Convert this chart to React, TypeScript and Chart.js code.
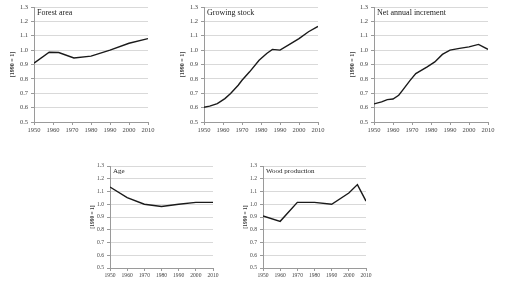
import React, { useEffect, useRef } from "react";
import { Chart, registerables } from "chart.js";

Chart.register(...registerables);

// Index values relative to 1990 (= 1)
const forestYears = [1950, 1958, 1963, 1971, 1980, 1990, 2000, 2010];
const forestValues = [0.91, 0.985, 0.983, 0.945, 0.958, 1.0, 1.048, 1.08];

const stockYears = [1950, 1953, 1957, 1961, 1964, 1968, 1970, 1974, 1979, 1983, 1986, 1990, 1995, 2000, 2005, 2010];
const stockValues = [0.602, 0.61, 0.628, 0.663, 0.698, 0.756, 0.79, 0.849, 0.93, 0.977, 1.005, 1.0, 1.04, 1.08, 1.128, 1.165];

const incrementYears = [1950, 1954, 1957, 1960, 1963, 1965, 1969, 1972, 1978, 1982, 1986, 1990, 1995, 2000, 2005, 2010];
const incrementValues = [0.626, 0.64, 0.656, 0.66, 0.686, 0.72, 0.79, 0.837, 0.884, 0.918, 0.97, 1.0, 1.012, 1.023, 1.04, 1.005];

const ageYears = [1950, 1960, 1970, 1980, 1990, 2000, 2010];
const ageValues = [1.135, 1.052, 1.0, 0.982, 1.0, 1.015, 1.015];

const woodYears = [1950, 1960, 1970, 1980, 1990, 2000, 2005, 2010];
const woodValues = [0.908, 0.866, 1.015, 1.015, 1.0, 1.088, 1.154, 1.025];

const yMin = 0.5;
const yMax = 1.3;
const yStep = 0.1;
const xMin = 1950;
const xMax = 2010;
const xStep = 10;
const yAxisTitle = "[1990 = 1]";

const FONT = "'Liberation Serif', 'Times New Roman', serif";

type Panel = {
  title: string;
  years: number[];
  values: number[];
  left: number;
  top: number;
  plotW: number;
  plotH: number;
  yAxisW: number;
  xAxisH: number;
  padTop: number;
  padRight: number;
  tickSize: number;
  titleSize: number;
  axisTitleSize: number;
  axisTitlePad: number;
};

const big = { plotW: 114, plotH: 115, yAxisW: 34, xAxisH: 16, padTop: 7, padRight: 12, tickSize: 6.5, titleSize: 8, axisTitleSize: 6, axisTitlePad: 9 };
const small = { plotW: 103, plotH: 102, yAxisW: 30, xAxisH: 14, padTop: 8, padRight: 12, tickSize: 5.6, titleSize: 7, axisTitleSize: 5.5, axisTitlePad: 9 };

const panels: Panel[] = [
  { title: "Forest area", years: forestYears, values: forestValues, left: 0, top: 0, ...big },
  { title: "Growing stock", years: stockYears, values: stockValues, left: 170, top: 0, ...big },
  { title: "Net annual increment", years: incrementYears, values: incrementValues, left: 340, top: 0, ...big },
  { title: "Age", years: ageYears, values: ageValues, left: 80, top: 158, ...small },
  { title: "Wood production", years: woodYears, values: woodValues, left: 233, top: 158, ...small },
];

function LinePanel({ p }: { p: Panel }) {
  const ref = useRef<HTMLCanvasElement | null>(null);
  const width = p.yAxisW + p.plotW + p.padRight;
  const height = p.padTop + p.plotH + p.xAxisH;

  useEffect(() => {
    if (!ref.current) return;
    const panelTitle = {
      id: "panelTitle",
      afterDraw(chart: Chart) {
        const { ctx, chartArea } = chart;
        ctx.save();
        ctx.font = `${p.titleSize}px ${FONT}`;
        ctx.fillStyle = "#222";
        ctx.textBaseline = "middle";
        ctx.textAlign = "left";
        ctx.fillText(p.title, chartArea.left + 3, chartArea.top + p.titleSize * 0.8);
        ctx.restore();
      },
    };
    const chart = new Chart(ref.current, {
      type: "line",
      data: {
        datasets: [
          {
            data: p.years.map((x, i) => ({ x, y: p.values[i] })),
            borderColor: "#1a1a1a",
            borderWidth: 1.4,
            pointRadius: 0,
            tension: 0,
            fill: false,
          },
        ],
      },
      options: {
        animation: false,
        responsive: false,
        devicePixelRatio: 1,
        layout: { padding: { top: p.padTop, right: p.padRight, left: 0, bottom: 0 } },
        plugins: { legend: { display: false }, tooltip: { enabled: false } },
        scales: {
          x: {
            type: "linear",
            min: xMin,
            max: xMax,
            afterFit: (s: any) => {
              s.height = p.xAxisH;
            },
            ticks: {
              stepSize: xStep,
              autoSkip: false,
              maxRotation: 0,
              padding: 1,
              color: "#444",
              font: { family: FONT, size: p.tickSize },
              callback: (v: any) => String(v),
            },
            grid: { drawOnChartArea: false, tickLength: 3, tickColor: "#9a9a9a" },
            border: { color: "#9a9a9a", width: 1 },
          },
          y: {
            min: yMin,
            max: yMax,
            afterFit: (s: any) => {
              s.width = p.yAxisW;
            },
            ticks: {
              stepSize: yStep,
              padding: 3,
              color: "#444",
              font: { family: FONT, size: p.tickSize },
              callback: (v: any) => Number(v).toFixed(1),
            },
            grid: { color: "#d9d9d9", tickLength: 3, tickColor: "#9a9a9a" },
            border: { color: "#9a9a9a", width: 1 },
            title: {
              display: true,
              text: yAxisTitle,
              color: "#333",
              padding: { top: p.axisTitlePad, bottom: 0 },
              font: { family: FONT, size: p.axisTitleSize, weight: "bold" },
            },
          },
        },
      },
      plugins: [panelTitle],
    } as any);
    return () => chart.destroy();
  }, [p]);

  return (
    <canvas
      ref={ref}
      width={width}
      height={height}
      style={{ position: "absolute", left: p.left, top: p.top, width, height }}
    />
  );
}

export default function App() {
  return (
    <div style={{ position: "fixed", left: 0, top: 0, width: 510, height: 286, background: "#fff", overflow: "hidden" }}>
      {panels.map((p) => (
        <LinePanel key={p.title} p={p} />
      ))}
    </div>
  );
}
